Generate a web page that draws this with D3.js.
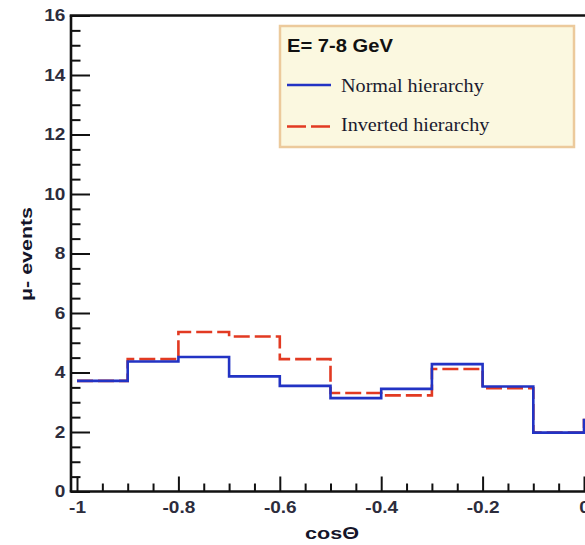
<!DOCTYPE html>
<html><head><meta charset="utf-8">
<script src="https://cdn.jsdelivr.net/npm/d3@7"></script>
<style>html,body{margin:0;padding:0;background:#fff;overflow:hidden}</style>
</head><body>
<script>
// ---- data ----
const binStart = [-1.0, -0.9, -0.8, -0.7, -0.6, -0.5, -0.4, -0.3, -0.2, -0.1, 0.0];
const binWidth = 0.1;
const normalHierarchy   = [3.72, 4.37, 4.52, 3.87, 3.55, 3.14, 3.45, 4.28, 3.53, 1.98, 2.4];
const invertedHierarchy = [3.72, 4.45, 5.36, 5.21, 4.45, 3.31, 3.23, 4.12, 3.47, 1.98, 2.4];
const xMajorTicks = [-1, -0.8, -0.6, -0.4, -0.2, 0];
const xTickLabels = ["-1", "-0.8", "-0.6", "-0.4", "-0.2", "0"];
const yMajorTicks = [0, 2, 4, 6, 8, 10, 12, 14, 16];
const legendTitle = "E= 7-8 GeV";
const seriesNames = ["Normal hierarchy", "Inverted hierarchy"];
const xTitle = "cosΘ";
const yTitle = "μ- events";

const W = 585, H = 545;
const svg = d3.select("body").append("svg").attr("width", W).attr("height", H);

const x = d3.scaleLinear().domain([-1, 0]).range([77, 584]);
const y = d3.scaleLinear().domain([0, 16]).range([491.5, 15.5]);
const frameLeft = 71, frameRight = 620;
const stretch = 1.12;
const sans = "'Liberation Sans', Arial, Helvetica, sans-serif";
const serif = "'Liberation Serif', 'Times New Roman', serif";

// ---- histograms ----
function stepPts(vals) {
  const pts = binStart.map((s, i) => [s, vals[i]]);
  pts.push([binStart[binStart.length - 1] + binWidth, vals[vals.length - 1]]);
  return pts;
}
const line = d3.line().x(d => x(d[0])).y(d => y(d[1])).curve(d3.curveStepAfter);
const blue = "#2233c4", red = "#e23a22";

svg.append("path").attr("d", line(stepPts(invertedHierarchy)))
  .attr("fill", "none").attr("stroke", red).attr("stroke-width", 2.6)
  .attr("stroke-dasharray", "16,5");
svg.append("path").attr("d", line(stepPts(normalHierarchy)))
  .attr("fill", "none").attr("stroke", blue).attr("stroke-width", 2.6);

// ---- axes ----
const yMinor = d3.range(0, 16.01, 0.5).filter(v => Math.abs(v / 2 - Math.round(v / 2)) > 1e-6);
const xMinor = d3.range(-1, 0.101, 0.05).filter(v => !xMajorTicks.some(t => Math.abs(t - v) < 1e-6));

const gy = svg.append("g").attr("transform", `translate(${frameLeft},0)`);
gy.call(d3.axisLeft(y).tickValues(yMajorTicks).tickSize(-19).tickPadding(5).tickFormat(d3.format("d")));
gy.append("g").call(d3.axisLeft(y).tickValues(yMinor).tickSize(-9.5).tickFormat(""));
gy.selectAll(".domain").remove();

const gx = svg.append("g").attr("transform", `translate(0,${y(0)})`);
gx.call(d3.axisBottom(x).tickValues(xMajorTicks).tickSize(-15).tickPadding(9)
  .tickFormat((d, i) => xTickLabels[i]));
gx.append("g").call(d3.axisBottom(x).tickValues(xMinor).tickSize(-8).tickFormat(""));
gx.selectAll(".domain").remove();

svg.selectAll(".tick line").attr("stroke", "#111").attr("stroke-width", 2);
svg.selectAll(".tick text")
  .attr("fill", "#2c2c3c")
  .style("font-family", sans).style("font-weight", "bold").style("font-size", "17px")
  .attr("transform", `scale(${stretch},1)`);

// frame lines
svg.append("line").attr("x1", frameLeft).attr("x2", frameLeft).attr("y1", y(16)).attr("y2", y(0))
  .attr("stroke", "#111").attr("stroke-width", 2.6);
svg.append("line").attr("x1", frameLeft - 1.3).attr("x2", frameRight).attr("y1", y(0)).attr("y2", y(0))
  .attr("stroke", "#111").attr("stroke-width", 2.6);
svg.append("line").attr("x1", frameLeft - 1.3).attr("x2", frameRight).attr("y1", y(16)).attr("y2", y(16))
  .attr("stroke", "#111").attr("stroke-width", 2.6);

// axis titles
svg.append("text").attr("x", 332).attr("y", 538.5).attr("text-anchor", "middle")
  .attr("textLength", 54).attr("lengthAdjust", "spacingAndGlyphs")
  .style("font-family", sans).style("font-weight", "bold").style("font-size", "17px")
  .attr("fill", "#15152a").text(xTitle);
svg.append("text").attr("transform", "translate(32,254) rotate(-90)").attr("text-anchor", "middle")
  .attr("textLength", 94).attr("lengthAdjust", "spacingAndGlyphs")
  .style("font-family", sans).style("font-weight", "bold").style("font-size", "17px")
  .attr("fill", "#15152a").text(yTitle);

// ---- legend ----
const lg = svg.append("g");
lg.append("rect").attr("x", 280).attr("y", 26).attr("width", 294).attr("height", 121)
  .attr("fill", "#fbf8e0").attr("stroke", "#ecca9c").attr("stroke-width", 2.5);
lg.append("text").attr("transform", `translate(287,51.5) scale(${stretch},1)`)
  .style("font-family", sans).style("font-weight", "bold").style("font-size", "18px")
  .attr("fill", "#111").text(legendTitle);
const entries = [
  {name: seriesNames[0], color: blue, dash: null, ly: 85, ty: 91.5},
  {name: seriesNames[1], color: red, dash: "19,5", ly: 126.5, ty: 130.5}
];
entries.forEach(e => {
  lg.append("line").attr("x1", 287).attr("x2", 331).attr("y1", e.ly).attr("y2", e.ly)
    .attr("stroke", e.color).attr("stroke-width", 2.4).attr("stroke-dasharray", e.dash);
  lg.append("text").attr("transform", `translate(341,${e.ty}) scale(${stretch},1)`)
    .style("font-family", serif).style("font-size", "18px")
    .attr("fill", "#1a1a2e").text(e.name);
});
</script>
</body></html>
